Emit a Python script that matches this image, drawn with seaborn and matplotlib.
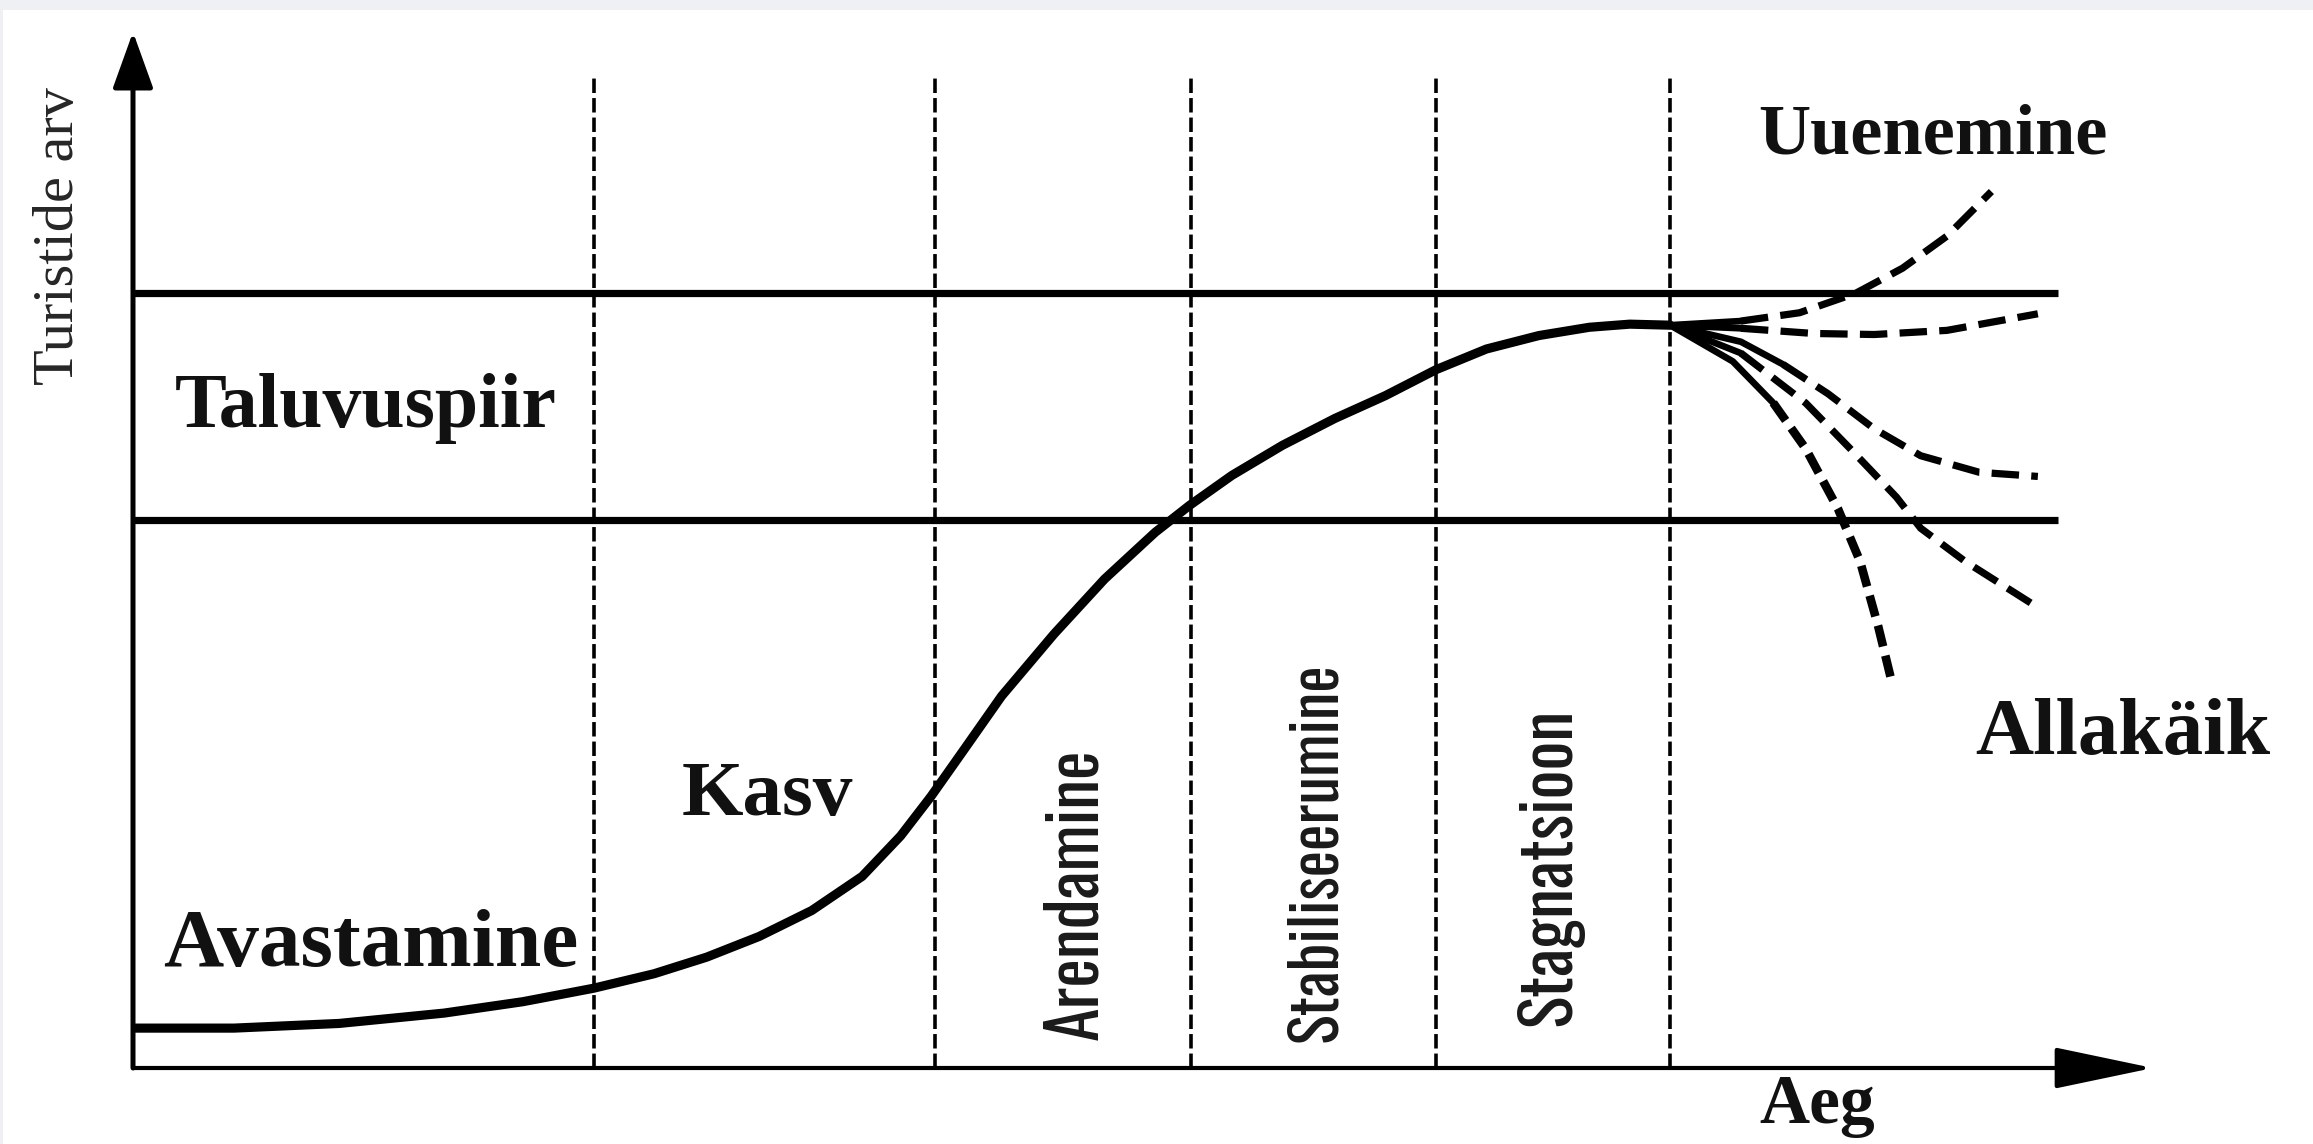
import numpy as np
import pandas as pd
import matplotlib
matplotlib.use("Agg")
import matplotlib.pyplot as plt
import matplotlib.patches as mpatches
import seaborn as sns

# --- data (time 0..100, tourists 0..100) ---
curve_t = [0, 5.0, 10.2, 15.4, 19.3, 22.8, 25.8, 28.4, 31.0, 33.6, 36.1, 38.0, 39.5,
           41.2, 43.0, 45.6, 48.1, 50.6, 52.3, 54.4, 56.9, 59.5, 62.0, 64.5, 67.0,
           69.6, 72.1, 74.1, 76.1]
curve_n = [3.85, 3.85, 4.3, 5.3, 6.4, 7.7, 9.1, 10.7, 12.7, 15.2, 18.5, 22.4, 26.2,
           30.9, 35.9, 41.9, 47.2, 51.7, 54.3, 57.2, 60.1, 62.7, 64.9, 67.4, 69.4,
           70.7, 71.5, 71.8, 71.7]

# future scenarios after stagnation
branch_t = [
    [76.1, 79.6, 82.5, 85.3, 87.6, 89.8, 92.0],
    [76.1, 79.6, 83.2, 86.2, 89.8, 94.3],
    [76.1, 79.6, 81.7, 83.9, 86.2, 88.5, 91.4, 94.3],
    [76.1, 79.6, 82.8, 85.0, 87.3, 88.5, 90.7, 94.1],
    [76.1, 79.2, 81.2, 82.8, 84.4, 85.5, 86.4, 87.1],
]
branch_n = [
    [71.7, 72.1, 72.9, 74.8, 77.2, 80.3, 84.6],
    [71.7, 71.4, 70.9, 70.8, 71.2, 72.8],
    [71.7, 70.1, 67.9, 65.1, 61.7, 59.1, 57.5, 57.1],
    [71.7, 69.0, 64.2, 59.8, 55.1, 52.1, 48.9, 44.7],
    [71.7, 68.2, 64.2, 59.8, 54.0, 48.9, 42.6, 37.0],
]
branch_solid = [2, 2, 3, 2, 3]   # leading points drawn solid

phase_x = [22.8, 39.7, 52.4, 64.5, 76.1]
capacity = [52.9, 74.8]

sns.set_style("white")
plt.rcParams['font.family'] = ['Liberation Serif', 'DejaVu Serif']
narrow = ['Oswald', 'Roboto Condensed', 'DejaVu Sans']

fig = plt.figure(figsize=(23.13, 11.44), dpi=100, facecolor='#eef0f3')
fig.patches.append(mpatches.Rectangle((3/2313, 0), 1, 1 - 10/1144, transform=fig.transFigure,
                                      facecolor='white', edgecolor='none', zorder=-5))
ax = fig.add_axes([133/2313, 76/1144, 2020/2313, 1036/1144])
ax.set_xlim(0, 100)
ax.set_ylim(0, 100)
ax.axis('off')

# axes arrows
ax.annotate('', xy=(100, 0), xytext=(0, 0),
            arrowprops=dict(arrowstyle='-|>,head_length=3.1,head_width=0.65', mutation_scale=20,
                            lw=3.0, color='black', shrinkA=0, shrinkB=0))
ax.annotate('', xy=(0, 100), xytext=(0, 0),
            arrowprops=dict(arrowstyle='-|>,head_length=1.75,head_width=0.63', mutation_scale=20,
                            lw=3.6, color='black', shrinkA=0, shrinkB=0))

# phase boundaries and carrying capacity range
ax.vlines(phase_x, 0, 95.8, colors='black', linestyles=[(0, (4, 1.4))], lw=2.6)
ax.hlines(capacity, 0, 95.3, colors='black', lw=5.2)

# main life cycle curve
df = pd.DataFrame({'t': curve_t, 'n': curve_n})
sns.lineplot(data=df, x='t', y='n', ax=ax, color='black', lw=6.6, sort=False,
             estimator=None, solid_capstyle='round', solid_joinstyle='round')

for i, (bt, bn) in enumerate(zip(branch_t, branch_n)):
    k = branch_solid[i]
    b = pd.DataFrame({'t': bt, 'n': bn})
    sns.lineplot(data=b.iloc[:k], x='t', y='n', ax=ax, color='black', lw=4.8,
                 sort=False, estimator=None, solid_capstyle='round')
    if i == 4:
        style = (0, (2.5, 1.1))
        w = 6.2
    else:
        style = (0, (3.8, 1.7))
        w = 5.2
    sns.lineplot(data=b.iloc[k - 1:], x='t', y='n', ax=ax, color='black', lw=w,
                 linestyle=style, sort=False, estimator=None)

# labels
bold = dict(fontweight='bold', ha='center', va='center', color='#111111')
ax.text(-3.65, 80.3, 'Turistide arv', rotation=90, fontsize=42, ha='center', va='center')
ax.text(11.5, 63.7, 'Taluvuspiir', fontsize=56, **bold)
ax.text(11.75, 11.7, 'Avastamine', fontsize=60, **bold)
ax.text(31.4, 26.2, 'Kasv', fontsize=57, **bold)
ax.text(89.1, 90.0, 'Uuenemine', fontsize=52, **bold)
ax.text(98.5, 32.2, 'Allakäik', fontsize=58, **bold)
ax.text(83.4, -3.7, 'Aeg', fontsize=50, **bold)
ax.text(46.7, 16.8, 'Arendamine', rotation=90, fontsize=49, ha='center', va='center',
        family=narrow, color='#1a1a1a')
ax.text(58.6, 20.8, 'Stabiliseerumine', rotation=90, fontsize=45, ha='center', va='center',
        family=narrow, color='#1a1a1a')
ax.text(70.1, 19.4, 'Stagnatsioon', rotation=90, fontsize=49, ha='center', va='center',
        family=narrow, color='#1a1a1a')

fig.savefig('out.png', dpi=100, facecolor=fig.get_facecolor())
